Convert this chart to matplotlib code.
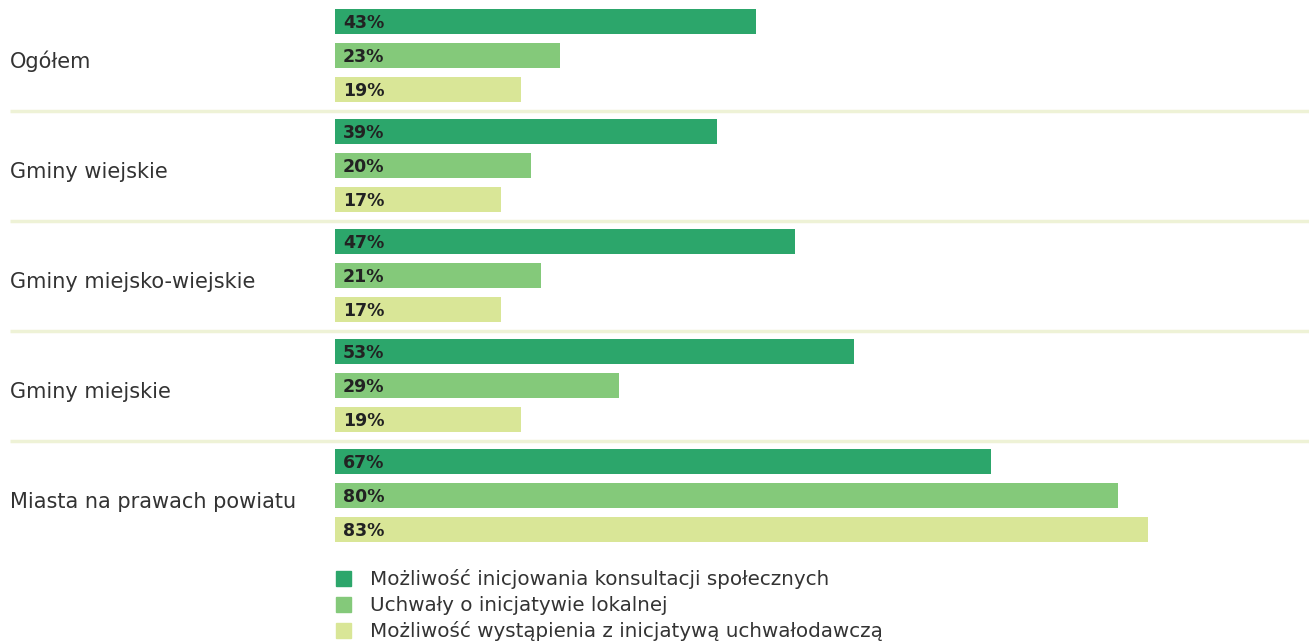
import matplotlib.pyplot as plt
from matplotlib.patches import Rectangle

# Dane
grupy = ['Ogółem', 'Gminy wiejskie', 'Gminy miejsko-wiejskie', 'Gminy miejskie',
         'Miasta na prawach powiatu']
serie = ['Możliwość inicjowania konsultacji społecznych',
         'Uchwały o inicjatywie lokalnej',
         'Możliwość wystąpienia z inicjatywą uchwałodawczą']
konsultacje = [43, 39, 47, 53, 67]
uchwaly = [23, 20, 21, 29, 80]
inicjatywa = [19, 17, 17, 19, 83]

kolory = ['#2ca66b', '#84c97a', '#d9e697']
linia = '#eef2d6'
plt.rcParams['font.family'] = ['DejaVu Sans']

W, H = 1309, 643
fig = plt.figure(figsize=(W / 100, H / 100), dpi=100)
# osie w pikselach: x od 335 do 1309, y od 0 do 560
ax = fig.add_axes([335 / W, (H - 560) / H, (W - 335) / W, 560 / H])
ax.set_xlim(0, (W - 335) / 9.79)
ax.set_ylim(560, 0)
ax.axis('off')

for g, nazwa in enumerate(grupy):
    y0 = 21.5 + 110 * g
    for i, wart in enumerate([konsultacje, uchwaly, inicjatywa]):
        y = y0 + 34 * i
        ax.barh(y, wart[g], height=25, color=kolory[i], left=0)
        ax.text(0.8, y + 6.5, f'{wart[g]}%', va='baseline', ha='left',
                fontsize=12.5, fontweight='bold', color='#222222')
    ax.text(-325 / 9.79, y0 + 46.5, nazwa, va='baseline', ha='left',
            fontsize=15, color='#333333', clip_on=False)
    if g < len(grupy) - 1:
        ax.plot([-325 / 9.79, 200], [y0 + 89, y0 + 89], color=linia, lw=2.5,
                clip_on=False, solid_capstyle='butt')

# Legenda
for i, s in enumerate(serie):
    yc = 578 + 26 * i
    fig.patches.append(Rectangle((336 / W, 1 - (yc + 7.5) / H), 15 / W, 15 / H,
                                 transform=fig.transFigure, color=kolory[i]))
    fig.text(370 / W, 1 - (yc + 7) / H, s, va='baseline', ha='left', fontsize=14.3,
             color='#333333')

fig.savefig('out.png', dpi=100)
